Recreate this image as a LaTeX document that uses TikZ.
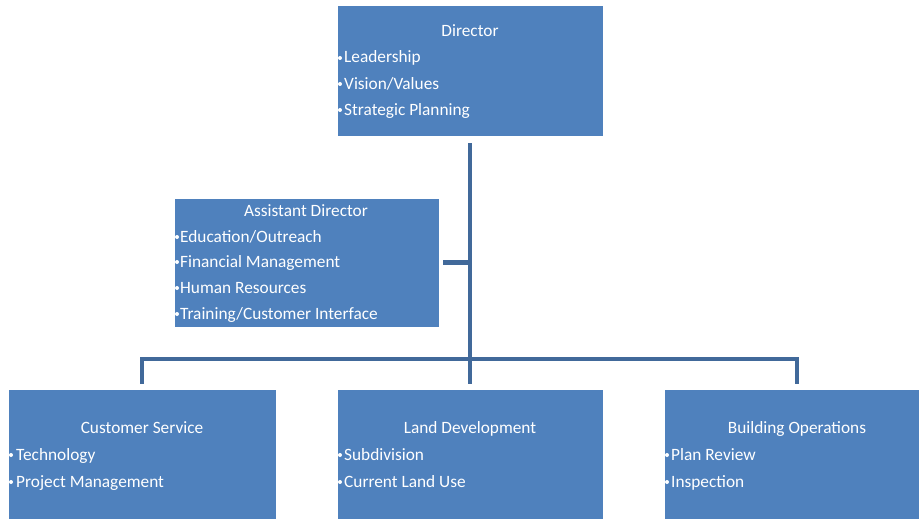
\documentclass[tikz,border=0pt]{standalone}
\usepackage{fontspec}
\setmainfont{Carlito}
\definecolor{boxblue}{HTML}{4F81BD}
\definecolor{linkblue}{HTML}{41699A}
\begin{document}
\begin{tikzpicture}[x=1pt,y=-1pt,
  box/.style={fill=boxblue, draw=white, line width=0.6pt, anchor=north west, inner sep=0pt, outer sep=0pt},
  ttl/.style={text=white, font=\fontsize{17.3}{19}\selectfont, anchor=base, inner sep=0pt},
  item/.style={text=white, font=\fontsize{17.3}{19}\selectfont, anchor=base west, inner sep=0pt},
  dot/.style={circle, fill=white, inner sep=0pt, minimum size=4pt},
  link/.style={draw=linkblue, line width=4.8pt}]
\useasboundingbox (0,0) rectangle (919,519);
\clip (0,0) rectangle (919,519);
% boxes
\node[box, minimum width=266pt, minimum height=131pt] (dir) at (337,5) {};
\node[box, minimum width=265pt, minimum height=129pt] (ad) at (174,198) {};
\node[box, minimum width=268pt, minimum height=131pt] (cs) at (8,389) {};
\node[box, minimum width=266pt, minimum height=131pt] (ld) at (337,389) {};
\node[box, minimum width=266pt, minimum height=131pt] (bo) at (664,389) {};
% Director text
\node[ttl] (dirT) at (470,37) {Director};
\node[dot] (d1) at (340,58) {}; \node[item] (dirA) at (344,63) {Leadership};
\node[dot] (d2) at (340,84) {}; \node[item] (dirB) at (344,89) {Vision/Values};
\node[dot] (d3) at (340,110) {}; \node[item] (dirC) at (344,115) {Strategic Planning};
% Assistant Director text
\node[ttl] (adT) at (306,216) {Assistant Director};
\node[dot] (a1) at (177,237) {}; \node[item] (adA) at (180,242) {Education/Outreach};
\node[dot] (a2) at (177,262) {}; \node[item] (adB) at (180,267) {Financial Management};
\node[dot] (a3) at (177,288) {}; \node[item] (adC) at (180,293) {Human Resources};
\node[dot] (a4) at (177,314) {}; \node[item] (adD) at (180,319) {Training/Customer Interface};
% Customer Service text
\node[ttl] (csT) at (142,433) {Customer Service};
\node[dot] (c1) at (11,455) {}; \node[item] (csA) at (16,460) {Technology};
\node[dot] (c2) at (11,482) {}; \node[item] (csB) at (16,487) {Project Management};
% Land Development text
\node[ttl] (ldT) at (470,433) {Land Development};
\node[dot] (l1) at (340,455) {}; \node[item] (ldA) at (344,460) {Subdivision};
\node[dot] (l2) at (340,482) {}; \node[item] (ldB) at (344,487) {Current Land Use};
% Building Operations text
\node[ttl] (boT) at (797,433) {Building Operations};
\node[dot] (b1) at (667,455) {}; \node[item] (boA) at (671,460) {Plan Review};
\node[dot] (b2) at (667,482) {}; \node[item] (boB) at (671,487) {Inspection};
% connectors
\coordinate (bus) at (470,359);
\draw[link, shorten <=7pt, shorten >=5pt] (dir.south) -- (ld.north);
\draw[link, shorten <=4pt] (ad.east) -- (ad.east -| dir.south);
\draw[link, shorten >=5pt] (bus) -| (cs.north);
\draw[link, shorten >=5pt] (bus) -| (bo.north);
\end{tikzpicture}
\end{document}
